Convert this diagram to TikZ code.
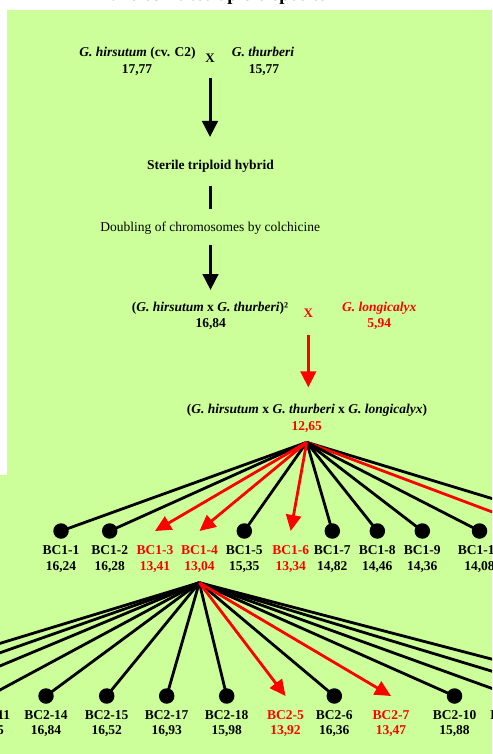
\documentclass[tikz,border=0pt]{standalone}
\usepackage{fontspec}
\setmainfont{Liberation Serif}
\usetikzlibrary{arrows.meta}
\definecolor{bg}{HTML}{CCFF99}
\definecolor{rd}{HTML}{FF0000}
\begin{document}
\begin{tikzpicture}[x=1pt,y=-1pt,
 txt/.style={inner sep=0pt, anchor=base, font=\fontsize{13.5}{15}\selectfont\bfseries},
 ktxt/.style={txt},
 rtxt/.style={txt, text=rd},
 reg/.style={inner sep=0pt, anchor=base, font=\fontsize{13.5}{15}\selectfont},
 dot/.style={circle, fill=black, minimum size=15.5pt, inner sep=0pt},
 link/.style={line width=2.8pt, black},
 rlink/.style={line width=2.8pt, rd, -{Triangle[length=16pt,width=15pt]}},
 bigarrow/.style={line width=3pt, -{Triangle[length=16pt,width=15.5pt]}},
]
\useasboundingbox (0,0) rectangle (492,754);
\clip (0,0) rectangle (492,754);
\fill[white] (0,0) rectangle (492,754);
\fill[bg] (7,10) rectangle (492,754);
\fill[bg] (0,475) rectangle (492,754);
% cut-off title
\node[inner sep=0pt, anchor=base, font=\fontsize{18.5}{20}\selectfont\bfseries] (title) at (218.5,1) {and some tetraploid species};

% parents
\node[txt] (p1) at (137.5,56.7) {\textit{G. hirsutum} (cv. C2)};
\node[txt] (p1v) at (137,73.3) {17,77};
\node[txt, font=\fontsize{13}{15}\selectfont\bfseries] (x1) at (210,62.3) {X};
\node[txt] (p2) at (263,56.7) {\textit{G. thurberi}};
\node[txt] (p2v) at (264,73.3) {15,77};
\coordinate (a1s) at (210,78);
\coordinate (a1e) at (210,137);
\draw[bigarrow] (a1s) -- (a1e);

\node[txt] (hyb) at (210.5,169.3) {Sterile triploid hybrid};
\coordinate (l1s) at (210.7,185.7);
\coordinate (l1e) at (210.7,209);
\draw[line width=3pt] (l1s) -- (l1e);
\node[reg] (dbl) at (210.3,231.7) {Doubling of chromosomes by colchicine};
\coordinate (a2s) at (210.5,245);
\coordinate (a2e) at (210.5,290);
\draw[bigarrow] (a2s) -- (a2e);

\node[txt] (p3) at (210,311.7) {(\textit{G. hirsutum} x \textit{G. thurberi})²};
\node[txt] (p3v) at (210.7,327.3) {16,84};
\node[rtxt, font=\fontsize{13}{15}\selectfont\bfseries] (x2) at (308.3,317.3) {X};
\node[rtxt] (p4) at (379.3,311.7) {\textit{G. longicalyx}};
\node[rtxt] (p4v) at (379.3,327.7) {5,94};
\coordinate (a3s) at (308.3,335);
\coordinate (a3e) at (308.3,387.3);
\draw[bigarrow, rd] (a3s) -- (a3e);

\node[txt] (f1) at (307,413.3) {(\textit{G. hirsutum} x \textit{G. thurberi} x \textit{G. longicalyx})};
\node[rtxt] (f1v) at (306.7,430) {12,65};
\coordinate (ap1) at (306.7,442.3);

% BC1 generation
\coordinate (d1-12) at (599,531);
\draw[link] (ap1) -- (d1-12);
\coordinate (d1-11) at (543,531);
\draw[rlink] (ap1) -- (d1-11);
\foreach \n/\x/\v in {1/61/{16,24},2/109.7/{16,28},5/244.3/{15,35},7/332.3/{14,82},8/377.3/{14,46},9/422.3/{14,36},10/479.5/{14,08}}{
  \coordinate (d1-\n) at (\x,531);
  \draw[link] (ap1) -- (d1-\n);
  \node[dot] (dot1-\n) at (d1-\n) {};
  \node[ktxt] (n1-\n) at (\x,554.3) {BC1-\n};
  \node[ktxt] (v1-\n) at (\x,570) {\v};
}
\foreach \n/\x/\v in {3/155/{13,41},4/199.5/{13,04},6/290.7/{13,34}}{
  \coordinate (d1-\n) at (\x,531);
  \draw[rlink] (ap1) -- (d1-\n);
  \node[rtxt] (n1-\n) at (\x,554.3) {BC1-\n};
  \node[rtxt] (v1-\n) at (\x,570) {\v};
}

% BC2 generation
\coordinate (ap2) at (199.3,582.7);
\foreach \k/\x in {a/-173,b/-123,c/-72,d/574,e/633}{
  \coordinate (d2-\k) at (\x,696);
  \draw[link] (ap2) -- (d2-\k);
}
\foreach \n/\x/\v in {11/-11.3/{16,15},14/46/{16,84},15/106.7/{16,52},17/166.7/{16,93},18/226.7/{15,98},6/334.3/{16,36},10/454.5/{15,88}}{
  \coordinate (d2-\n) at (\x,696);
  \draw[link] (ap2) -- (d2-\n);
  \node[dot] (dot2-\n) at (d2-\n) {};
  \node[ktxt] (n2-\n) at (\x,719.3) {BC2-\n};
  \node[ktxt] (v2-\n) at (\x,734) {\v};
}
\coordinate (d2-12) at (513,696);
\draw[link] (ap2) -- (d2-12);
\node[dot] (dot2-12) at (d2-12) {};
\node[ktxt] (n2-12) at (512,719.3) {BC2-12};
\foreach \n/\x/\v in {5/285.5/{13,92},7/391/{13,47}}{
  \coordinate (d2-\n) at (\x,696);
  \draw[rlink] (ap2) -- (d2-\n);
  \node[rtxt] (n2-\n) at (\x,719.3) {BC2-\n};
  \node[rtxt] (v2-\n) at (\x,734) {\v};
}
\end{tikzpicture}
\end{document}
